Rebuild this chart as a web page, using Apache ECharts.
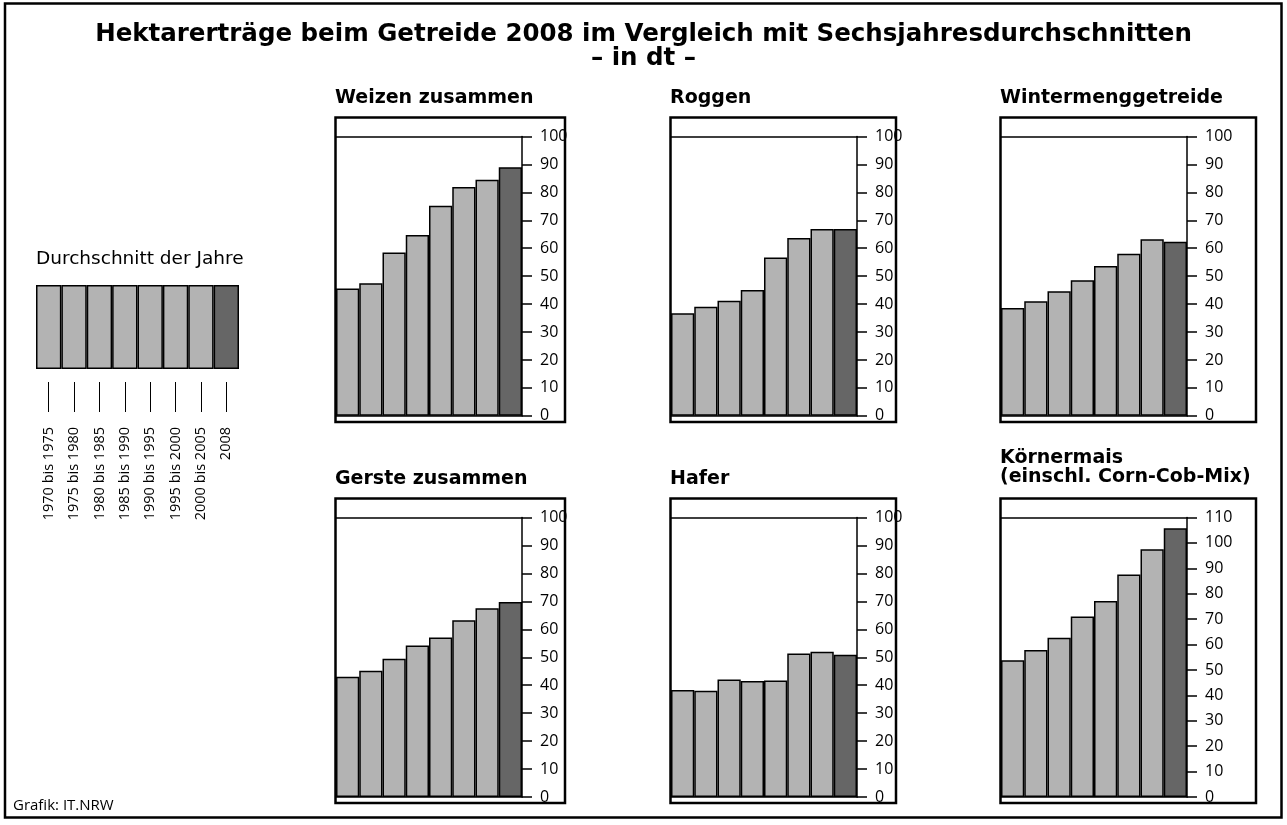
<!DOCTYPE html>
<html>
<head>
<meta charset="utf-8">
<script src="https://cdn.jsdelivr.net/npm/echarts@6/dist/echarts.min.js"></script>
<style>
html,body{margin:0;padding:0;background:#fff;}
#chart{width:1287px;height:825px;}
</style>
</head>
<body>
<div id="chart"></div>
<script>
// ---- data ----
const categories = ['1970 bis 1975','1975 bis 1980','1980 bis 1985','1985 bis 1990','1990 bis 1995','1995 bis 2000','2000 bis 2005','2008'];
const weizen = [45.6, 47.5, 58.5, 64.7, 75.2, 81.9, 84.5, 89.0];
const roggen = [36.7, 39.0, 41.2, 45.0, 56.7, 63.7, 66.9, 66.9];
const wintermenggetreide = [38.6, 41.0, 44.6, 48.5, 53.6, 58.0, 63.2, 62.3];
const gerste = [43.0, 45.2, 49.5, 54.2, 57.1, 63.2, 67.5, 69.8];
const hafer = [38.3, 38.0, 42.0, 41.5, 41.7, 51.3, 52.0, 50.9];
const koernermais = [53.8, 57.9, 62.7, 71.0, 77.1, 87.6, 97.5, 105.8];
const panelTitles = ['Weizen zusammen','Roggen','Wintermenggetreide','Gerste zusammen','Hafer','Körnermais\n(einschl. Corn-Cob-Mix)'];
const axisMax = [100, 100, 100, 100, 100, 110];
const legendSwatch = [1,1,1,1,1,1,1,1];

const mainTitle = 'Hektarerträge beim Getreide 2008 im Vergleich mit Sechsjahresdurchschnitten';
const subTitle = '– in dt –';
const legendTitle = 'Durchschnitt der Jahre';
const sourceText = 'Grafik: IT.NRW';

// ---- layout ----
const FONT = '"Open Sans", "DejaVu Sans", sans-serif';
const WIDE = '"DejaVu Sans", "Open Sans", sans-serif';
const LIGHT = '#b3b3b3', DARK = '#666666';
const seriesData = [weizen, roggen, wintermenggetreide, gerste, hafer, koernermais];
const colLeft = [336, 671, 1001];
const frameRight = [565, 896, 1256];
const rowTop = [136.5, 517.5];
const rowBottom = [415.8, 797];
const frameTop = [117.5, 498.5];
const frameBottom = [422, 803];
const titleY = [96, 477];

const grids = [], xAxes = [], yAxes = [], series = [], graphics = [];

seriesData.forEach((vals, i) => {
  const r = Math.floor(i / 3), c = i % 3;
  grids.push({left: colLeft[c], top: rowTop[r], width: 186, height: rowBottom[r] - rowTop[r]});
  xAxes.push({
    type: 'category', gridIndex: i, data: categories, position: 'bottom',
    axisLine: {show: true, lineStyle: {color: '#000', width: 1.5}},
    axisTick: {show: false}, axisLabel: {show: false}, splitLine: {show: false}
  });
  xAxes.push({
    type: 'category', gridIndex: i, data: categories, position: 'top',
    axisLine: {show: true, lineStyle: {color: '#000', width: 1.5}},
    axisTick: {show: false}, axisLabel: {show: false}, splitLine: {show: false}
  });
  yAxes.push({
    type: 'value', gridIndex: i, position: 'right', min: 0, max: axisMax[i], interval: 10,
    axisLine: {show: true, lineStyle: {color: '#000', width: 1.5}},
    axisTick: {show: true, length: 10, lineStyle: {color: '#000', width: 1.5}},
    axisLabel: {show: true, margin: 18, color: '#000', fontSize: 16, fontFamily: FONT},
    splitLine: {show: false}
  });
  series.push({
    type: 'bar', xAxisIndex: i * 2, yAxisIndex: i, barCategoryGap: 0, barGap: 0,
    data: vals.map((v, k) => ({value: v, itemStyle: {color: k === vals.length - 1 ? DARK : LIGHT}})),
    itemStyle: {borderColor: '#000', borderWidth: 1.5},
    silent: true, animation: false
  });
  graphics.push({
    type: 'rect', shape: {x: colLeft[c] - 0.5, y: frameTop[r], width: frameRight[c] - colLeft[c] + 0.5, height: frameBottom[r] - frameTop[r]},
    style: {fill: 'none', stroke: '#000', lineWidth: 2.5}, silent: true
  });
  const isTwoLine = panelTitles[i].indexOf('\n') >= 0;
  graphics.push({
    type: 'text', left: colLeft[c] - 1, top: isTwoLine ? 449 : titleY[r] - 7,
    style: {text: panelTitles[i], fill: '#000', font: 'bold 19px ' + WIDE, lineHeight: 19}
  });
});

// legend swatch as a bar chart
const li = seriesData.length;
grids.push({left: 36, top: 285, width: 203, height: 84});
xAxes.push({
  type: 'category', gridIndex: li, data: categories, position: 'bottom',
  axisLine: {show: false}, axisTick: {show: false}, axisLabel: {show: false}
});
yAxes.push({type: 'value', gridIndex: li, min: 0, max: 1, show: false});
series.push({
  type: 'bar', xAxisIndex: xAxes.length - 1, yAxisIndex: li, barCategoryGap: 0,
  data: legendSwatch.map((v, k) => ({value: v, itemStyle: {color: k === legendSwatch.length - 1 ? DARK : LIGHT}})),
  itemStyle: {borderColor: '#000', borderWidth: 1.5}, silent: true, animation: false
});
// legend label axis (separate grid so the tick marks start below the swatch)
grids.push({left: 36, top: 300, width: 203, height: 82});
xAxes.push({
  type: 'category', gridIndex: li + 1, data: categories, position: 'bottom',
  axisLine: {show: false},
  axisTick: {show: true, alignWithLabel: true, length: 30, lineStyle: {color: '#000', width: 1}},
  axisLabel: {show: true, interval: 0, rotate: 90, margin: 45, color: '#000', fontSize: 14.5, fontFamily: FONT}
});
yAxes.push({type: 'value', gridIndex: li + 1, min: 0, max: 1, show: false});

graphics.push({type: 'rect', shape: {x: 5, y: 3.5, width: 1276.5, height: 814}, style: {fill: 'none', stroke: '#000', lineWidth: 2.5}, silent: true});
graphics.push({type: 'text', left: 'center', top: 22, style: {text: mainTitle, fill: '#000', font: 'bold 24.5px ' + WIDE}});
graphics.push({type: 'text', left: 'center', top: 46, style: {text: subTitle, fill: '#000', font: 'bold 24.5px ' + WIDE}});
graphics.push({type: 'text', left: 36, top: 250, style: {text: legendTitle, fill: '#000', font: '18.5px ' + WIDE}});
graphics.push({type: 'text', left: 13, top: 798, style: {text: sourceText, fill: '#000', font: '15px ' + FONT}});

const chart = echarts.init(document.getElementById('chart'), null, {renderer: 'canvas'});
chart.setOption({
  animation: false,
  backgroundColor: '#fff',
  grid: grids, xAxis: xAxes, yAxis: yAxes, series: series, graphic: graphics
});
</script>
</body>
</html>
